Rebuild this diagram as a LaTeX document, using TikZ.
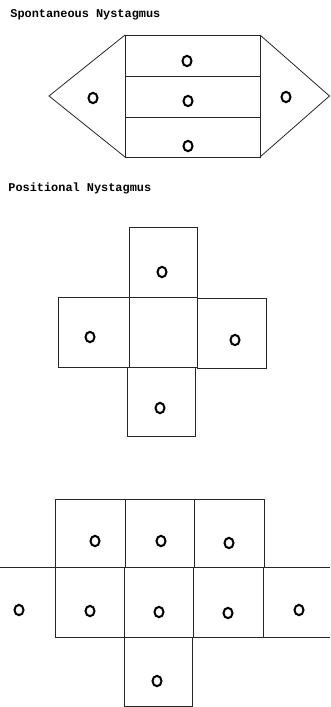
\documentclass[tikz,border=0pt]{standalone}
\usepackage{fontspec}
\setmonofont{Liberation Mono}
\usetikzlibrary{positioning}
\tikzset{
  every picture/.style={x=1pt, y=-1pt, line width=0.8pt},
  cell/.style={draw=black!85},
  dot/.style={draw=black, line width=2pt},
  heading/.style={font=\ttfamily\bfseries\fontsize{11.9}{13}\selectfont, anchor=west, inner sep=0pt},
}

\begin{document}
\begin{tikzpicture}
  \useasboundingbox (0,0) rectangle (330,707);
  % spontaneous: three stacked cells with a triangle either side
  \node[heading] (spont) at (10,15) {Spontaneous Nystagmus};
  \draw[cell] (125,35) rectangle (260,157);
  \draw[cell] (125,76) -- (260,76);
  \draw[cell] (125,117) -- (260,117);
  \draw[cell] (125,35) -- (49,96) -- (125,157);
  \draw[cell] (260,35) -- (329.5,96) -- (260,157);
  \foreach \x/\y in {187/61, 188/101, 188/146, 93/98, 286/97}
    \draw[dot] (\x,\y) ellipse (4.5 and 5.2);
  % positional: cross of five cells, centre empty
  \node[heading] (posi) at (8,188) {Positional Nystagmus};
  \draw[cell] (129,227) rectangle (197,297);
  \draw[cell] (58,297) rectangle (129,367);
  \draw[cell] (129,297) rectangle (197,367);
  \draw[cell] (197,298) rectangle (266,368);
  \draw[cell] (127,367) rectangle (195,436);
  \foreach \x/\y in {162/272, 90/337, 235/340, 160/408}
    \draw[dot] (\x,\y) ellipse (4.5 and 5.2);
  % extended grid
  \foreach \l/\r in {55/125, 125/194, 194/264}
    \draw[cell] (\l,499) rectangle (\r,567);
  \foreach \l/\r in {55/124, 124/193, 193/263}
    \draw[cell] (\l,567) rectangle (\r,637);
  \draw[cell] (0,567) -- (55,567);
  \draw[cell] (330,567) -- (263,567) -- (263,637) -- (330,637);
  \draw[cell] (124,637) rectangle (192,706);
  \foreach \x/\y in {95/541, 161/541, 229/543, 19/610, 90/611, 159/612, 228/613, 299/610, 157/681}
    \draw[dot] (\x,\y) ellipse (4.5 and 5.2);
\end{tikzpicture}
\end{document}
